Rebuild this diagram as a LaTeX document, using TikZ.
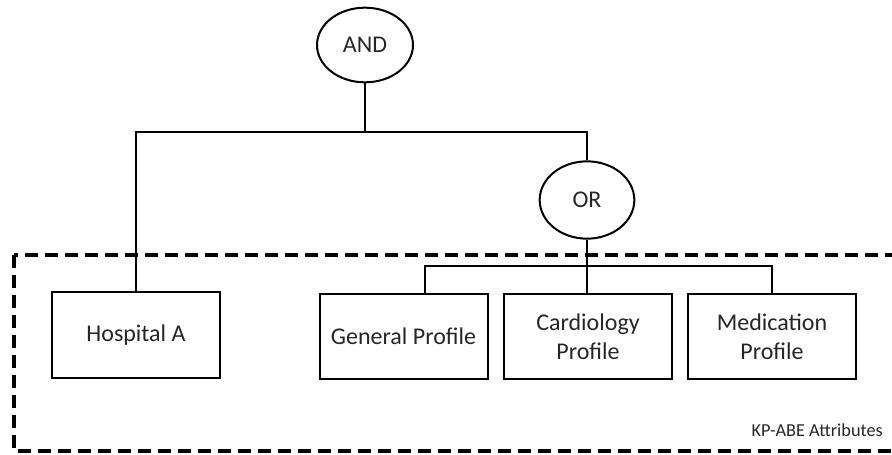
\documentclass[tikz,border=0pt]{standalone}
\usepackage{fontspec}
\setmainfont{Carlito}
\usetikzlibrary{shapes.geometric}
\begin{document}
\begin{tikzpicture}[x=0.75pt,y=-0.75pt,
  gate/.style={ellipse,draw,line width=1.5pt,inner sep=0pt,font=\fontsize{18}{21.6}\selectfont,text=black!85},
  attr/.style={rectangle,draw,line width=1.5pt,minimum width=126pt,minimum height=64pt,
    inner sep=0pt,align=center,font=\fontsize{18}{21.6}\selectfont,text=black!85},
  wire/.style={line width=1.5pt},
  group/.style={line width=3pt,dash pattern=on 10pt off 5pt}]
\useasboundingbox (0,0) rectangle (892,454);
\begin{scope}
\clip (0,0) rectangle (892,454);
% attribute group frame, open past the right edge
\draw[group] (14,255) rectangle (920,451);
\end{scope}

% gates
\node[gate,minimum width=72pt,minimum height=56pt] (and) at (365,45) {AND};
\node[gate,minimum width=71pt,minimum height=58pt] (or) at (587,200) {OR};

% attribute leaves
\node[attr] (hosp) at (136,335) {Hospital A};
\node[attr] (gen) at (403.5,336.5) {General Profile};
\node[attr] (card) at (588,336.5) {Cardiology\\Profile};
\node[attr] (med) at (772,336.5) {Medication\\Profile};

% label of the group
\node[anchor=east,inner sep=0pt,font=\fontsize{13.7}{16}\selectfont,text=black!85] (lbl) at (883,430) {KP-ABE Attributes};

% bus points
\coordinate (andbus) at (365,132);
\coordinate (orbus) at (587,266);
\coordinate (genin) at (425,294);

% AND branch
\draw[wire] (and.south) -- (andbus);
\draw[wire] (hosp.north) |- (andbus) -| (or.north);

% OR branch
\draw[wire] (or.south) -- (or.south |- card.north);
\draw[wire] (genin) |- (orbus) -| (med.north);
\end{tikzpicture}
\end{document}
